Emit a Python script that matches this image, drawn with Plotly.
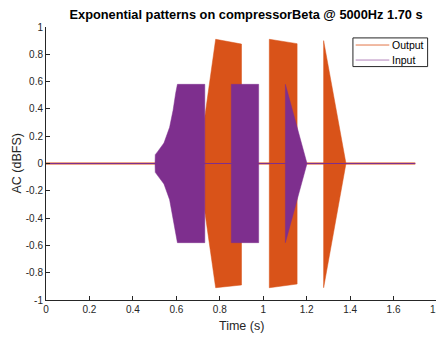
import plotly.graph_objects as go

# ---- data (envelope breakpoints) ----
t_end = [0.0, 1.70]           # zero baseline extent (s)

# Output bursts: time, upper amplitude, lower amplitude
out_b1_t = [0.730, 0.781, 0.900]
out_b1_up = [0.33, 0.91, 0.875]
out_b1_lo = [-0.34, -0.91, -0.89]

out_b2_t = [1.028, 1.156]
out_b2_up = [0.91, 0.878]
out_b2_lo = [-0.91, -0.883]

out_b3_t = [1.278, 1.381]
out_b3_up = [0.90, 0.0]
out_b3_lo = [-0.91, 0.0]

# Input bursts: time, amplitude (symmetric)
in_b1_t = [0.502, 0.503, 0.513, 0.543, 0.569, 0.585, 0.597, 0.605, 0.731]
in_b1_amp = [0.0, 0.065, 0.085, 0.150, 0.265, 0.390, 0.515, 0.58, 0.58]

in_b2_t = [0.853, 0.979]
in_b2_amp = [0.58, 0.58]

in_b3_t = [1.102, 1.2016]
in_b3_amp = [0.58, 0.0]

x_ticks = [0, 0.2, 0.4, 0.6, 0.8, 1.0, 1.2, 1.4, 1.6, 1.8]
x_ticktext = ["0", "0.2", "0.4", "0.6", "0.8", "1", "1.2", "1.4", "1.6", "1.8"]
y_ticks = [-1, -0.8, -0.6, -0.4, -0.2, 0, 0.2, 0.4, 0.6, 0.8, 1]
y_ticktext = ["-1", "-0.8", "-0.6", "-0.4", "-0.2", "0", "0.2", "0.4", "0.6", "0.8", "1"]

series_names = ["Output", "Input"]

OUT_COLOR = "#D95319"
IN_COLOR = "#7E2F8E"
FONT = "Liberation Sans, Arial, sans-serif"
AX = "#262626"


def polygon(t, up, lo):
    xs = list(t) + list(reversed(t)) + [t[0]]
    ys = list(up) + list(reversed(lo)) + [up[0]]
    return xs, ys


def multi(polys):
    xs, ys = [], []
    for px, py in polys:
        xs += px + [None]
        ys += py + [None]
    return xs, ys


out_x, out_y = multi([
    polygon(out_b1_t, out_b1_up, out_b1_lo),
    polygon(out_b2_t, out_b2_up, out_b2_lo),
    polygon(out_b3_t, out_b3_up, out_b3_lo),
])
in_x, in_y = multi([
    polygon(in_b1_t, in_b1_amp, [-a for a in in_b1_amp]),
    polygon(in_b2_t, in_b2_amp, [-a for a in in_b2_amp]),
    polygon(in_b3_t, in_b3_amp, [-a for a in in_b3_amp]),
])

fig = go.Figure()
fig.add_trace(go.Scatter(x=out_x, y=out_y, mode="lines", fill="toself",
                         fillcolor=OUT_COLOR, line=dict(width=0.5, color=OUT_COLOR),
                         showlegend=False, hoverinfo="skip"))
fig.add_trace(go.Scatter(x=t_end, y=[0, 0], mode="lines", name=series_names[0],
                         line=dict(width=1.8, color=OUT_COLOR), showlegend=False))
fig.add_trace(go.Scatter(x=in_x, y=in_y, mode="lines", fill="toself",
                         fillcolor=IN_COLOR, line=dict(width=0.5, color=IN_COLOR),
                         showlegend=False, hoverinfo="skip"))
fig.add_trace(go.Scatter(x=t_end, y=[0, 0], mode="lines", name=series_names[1],
                         line=dict(width=1.1, color=IN_COLOR), showlegend=False))

axis_common = dict(
    showgrid=False, zeroline=False, showline=True, linecolor=AX, linewidth=1,
    ticks="inside", ticklen=4, tickcolor=AX, tickwidth=1,
    tickfont=dict(family=FONT, size=10, color=AX),
    mirror=False, automargin=False, ticklabeloverflow="allow",
)

# manual MATLAB-style legend (paper coordinates)
lx0, lx1, ly0, ly1 = 0.785, 0.976, 0.855, 0.960
legend_y = [0.934, 0.879]
legend_colors = ["rgba(217,83,25,0.8)", "rgba(126,47,142,0.6)"]
shapes = [dict(type="rect", xref="paper", yref="paper", x0=lx0, x1=lx1, y0=ly0, y1=ly1,
               line=dict(color=AX, width=1), fillcolor="white", layer="above")]
annotations = []
for name, yy, col in zip(series_names, legend_y, legend_colors):
    shapes.append(dict(type="line", xref="paper", yref="paper", x0=0.792, x1=0.878,
                       y0=yy, y1=yy, line=dict(color=col, width=1), layer="above"))
    annotations.append(dict(text=name, xref="paper", yref="paper", x=0.881, y=yy,
                            xanchor="left", yanchor="middle", showarrow=False,
                            font=dict(family=FONT, size=10.5, color="#000000")))

# axis titles as annotations (pixel offsets from the plot edges)
annotations.append(dict(text="Time (s)", xref="paper", yref="paper", x=0.5, y=0,
                        xanchor="center", yanchor="middle", yshift=-26, showarrow=False,
                        font=dict(family=FONT, size=12.5, color=AX)))
annotations.append(dict(text="AC (dBFS)", xref="paper", yref="paper", x=0, y=0.5,
                        xanchor="center", yanchor="middle", xshift=-30, textangle=-90,
                        showarrow=False, font=dict(family=FONT, size=12.5, color=AX)))

# figure sized to the window minus the page's default 8px body margin
fig.update_layout(
    width=436, height=330,
    margin=dict(l=38, r=7, t=19, b=38, autoexpand=False),
    paper_bgcolor="white", plot_bgcolor="white",
    title=dict(text="<b>Exponential patterns on compressorBeta @ 5000Hz 1.70 s</b>",
               x=0.546, xanchor="center", y=0.979, yanchor="middle",
               font=dict(family=FONT, size=12.8, color="#000000")),
    xaxis=dict(range=[0, 1.8], tickvals=x_ticks, ticktext=x_ticktext, **axis_common),
    yaxis=dict(range=[-1, 1], tickvals=y_ticks, ticktext=y_ticktext, **axis_common),
    shapes=shapes,
    annotations=annotations,
    showlegend=False,
)

fig.write_html("out.html")
